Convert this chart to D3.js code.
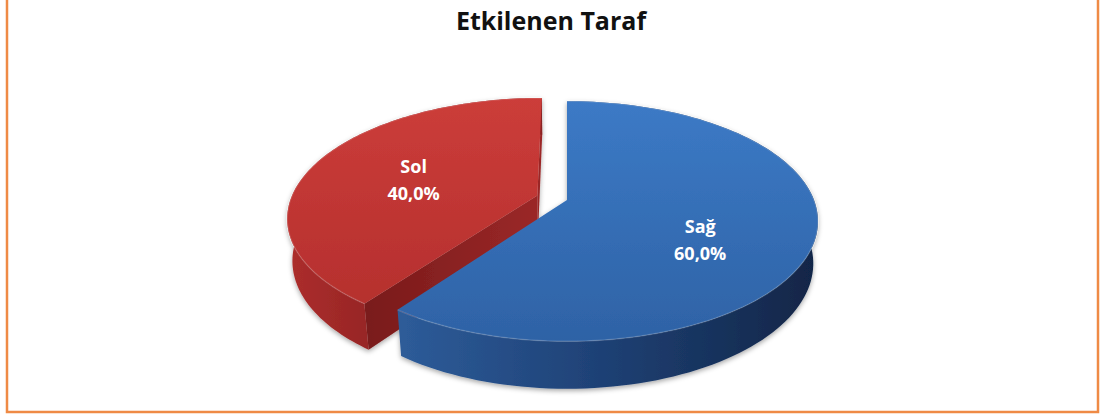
<!DOCTYPE html>
<html>
<head>
<meta charset="utf-8">
<script src="https://cdn.jsdelivr.net/npm/d3@7"></script>
<style>
  body { margin: 0; background: #fff; }
  svg { display: block; }
</style>
</head>
<body>
<div id="main"></div>
<script>
const title = "Etkilenen Taraf";
const categories = ["Sağ", "Sol"];
const values = [60, 40];
const percentLabels = ["60,0%", "40,0%"];
const explode = [0, 0.127];

class Pie3D {
  constructor(config) {
    this.config = config;
    this.svg = null;
    this.defs = null;
    this.plot = null;
    this.slices = [];

    this.createSvg();
    this.createDefs();
  }

  createSvg() {
    this.svg = d3.select(this.config.div)
      .append("svg")
      .attr("width", this.config.width)
      .attr("height", this.config.height);

    // orange frame, top edge runs off the picture
    this.svg.append("rect")
      .attr("x", 7)
      .attr("y", -6)
      .attr("width", 1091)
      .attr("height", 418)
      .attr("fill", "none")
      .attr("stroke", "#ef8a45")
      .attr("stroke-width", 2.5);

    this.svg.append("text")
      .attr("x", 551)
      .attr("y", 30)
      .attr("text-anchor", "middle")
      .attr("font-family", "'Open Sans', Lato, sans-serif")
      .attr("font-weight", "bold")
      .attr("font-size", 25)
      .attr("fill", "#111")
      .text(title);
  }

  createDefs() {
    this.defs = this.svg.append("defs");

    const grad = (id, x1, y1, x2, y2, stops) => {
      let g = this.defs.append("linearGradient")
        .attr("id", id)
        .attr("gradientUnits", "userSpaceOnUse")
        .attr("x1", x1).attr("y1", y1).attr("x2", x2).attr("y2", y2);
      stops.forEach(s => g.append("stop").attr("offset", s[0]).attr("stop-color", s[1]));
    };

    grad("topBlue", 0, 100, 0, 345, [[0, "#3c7ac6"], [1, "#2e62a5"]]);
    grad("sideBlue", 405, 0, 820, 0, [[0, "#2d5b98"], [0.45, "#1f4277"], [1, "#112546"]]);
    grad("topRed", 0, 95, 0, 300, [[0, "#cc3d3a"], [1, "#b6302e"]]);
    grad("sideRed", 285, 0, 420, 0, [[0, "#ad2e2d"], [1, "#8a2020"]]);
    grad("cutRed", 370, 0, 540, 0, [[0, "#7a1b1b"], [1, "#9b2828"]]);

    let f = this.defs.append("filter")
      .attr("id", "shadow")
      .attr("x", "-10%").attr("y", "-10%")
      .attr("width", "120%").attr("height", "130%");
    f.append("feDropShadow")
      .attr("dx", 0).attr("dy", 2)
      .attr("stdDeviation", 2.5)
      .attr("flood-color", "#000")
      .attr("flood-opacity", 0.35);

    this.plot = this.svg.append("g").attr("filter", "url(#shadow)");
  }

  project(x, z, h) {
    const c = this.config;
    const D = c.dist - z * c.cos - h * c.sin;
    return [c.cx + c.f * x / D, c.cy + c.f * (z * c.sin - h * c.cos) / D];
  }

  createSlices() {
    const pie = d3.pie().sort(null).value(d => d.value);
    const data = categories.map((name, i) => ({
      name, value: values[i], label: percentLabels[i], explode: explode[i], i
    }));
    this.slices = pie(data).map(p => {
      const mid = (p.startAngle + p.endAngle) / 2;
      return {
        ...p,
        mid,
        ox: Math.sin(mid) * p.data.explode,
        oz: -Math.cos(mid) * p.data.explode
      };
    });
    // back slices first
    this.slices.sort((a, b) => (-Math.cos(a.mid)) - (-Math.cos(b.mid)));
  }

  rim(s, a, h) {
    return this.project(s.ox + Math.sin(a), s.oz - Math.cos(a), h);
  }

  arcPoints(s, h) {
    const n = 120;
    return d3.range(n + 1).map(k => {
      const a = s.startAngle + (s.endAngle - s.startAngle) * k / n;
      return this.rim(s, a, h);
    });
  }

  renderSlices() {
    const c = this.config;
    const line = d3.line();
    const colors = [
      {top: "url(#topBlue)", side: "url(#sideBlue)", cut: "#1b3a68"},
      {top: "url(#topRed)", side: "url(#sideRed)", cut: "url(#cutRed)"}
    ];

    this.slices.forEach(s => {
      const col = colors[s.data.i];
      const g = this.plot.append("g");
      const apexTop = this.project(s.ox, s.oz, 0);
      const apexBot = this.project(s.ox, s.oz, -c.thick);

      // radial cut faces, only when turned to the camera
      [[s.startAngle, -1], [s.endAngle, 1]].forEach(([a, sign]) => {
        const nx = sign * Math.cos(a), nz = sign * Math.sin(a);
        const dot = nx * (-s.ox) + nz * (c.dist * c.cos - s.oz);
        if (dot <= 0.001) return;
        g.append("path")
          .attr("d", line([apexTop, this.rim(s, a, 0), this.rim(s, a, -c.thick), apexBot]) + "Z")
          .attr("fill", col.cut);
      });

      const topArc = this.arcPoints(s, 0);
      const botArc = this.arcPoints(s, -c.thick);
      g.append("path")
        .attr("d", line(topArc.concat(botArc.reverse())) + "Z")
        .attr("fill", col.side);

      g.append("path")
        .attr("d", line([apexTop].concat(topArc)) + "Z")
        .attr("fill", col.top);

      g.append("path")
        .attr("d", line(topArc))
        .attr("fill", "none")
        .attr("stroke", "rgba(255,255,255,0.15)")
        .attr("stroke-width", 1.5);
    });
  }

  renderLabels() {
    const c = this.config;
    this.slices.forEach(s => {
      const r = 0.55;
      const p = this.project(s.ox + Math.sin(s.mid) * r, s.oz - Math.cos(s.mid) * r, 0);
      const dy = c.labelShift[s.data.i];
      const t = this.svg.append("text")
        .attr("text-anchor", "middle")
        .attr("font-family", "'Open Sans', Lato, sans-serif")
        .attr("font-weight", "bold")
        .attr("font-size", 18)
        .attr("fill", "#fff");
      t.append("tspan").attr("x", p[0]).attr("y", p[1] + dy - 6).text(s.data.name);
      t.append("tspan").attr("x", p[0]).attr("y", p[1] + dy + 21).text(s.data.label);
    });
  }
}

function main() {
  let c = {
    div: "#main", width: 1102, height: 414,
    cx: 567, cy: 200, f: 1230, dist: 4.98,
    sin: 0.471, cos: 0.882, thick: 0.195,
    labelShift: [19, 2]
  };
  let p = new Pie3D(c);
  p.createSlices();
  p.renderSlices();
  p.renderLabels();
}

main();
</script>
</body>
</html>
